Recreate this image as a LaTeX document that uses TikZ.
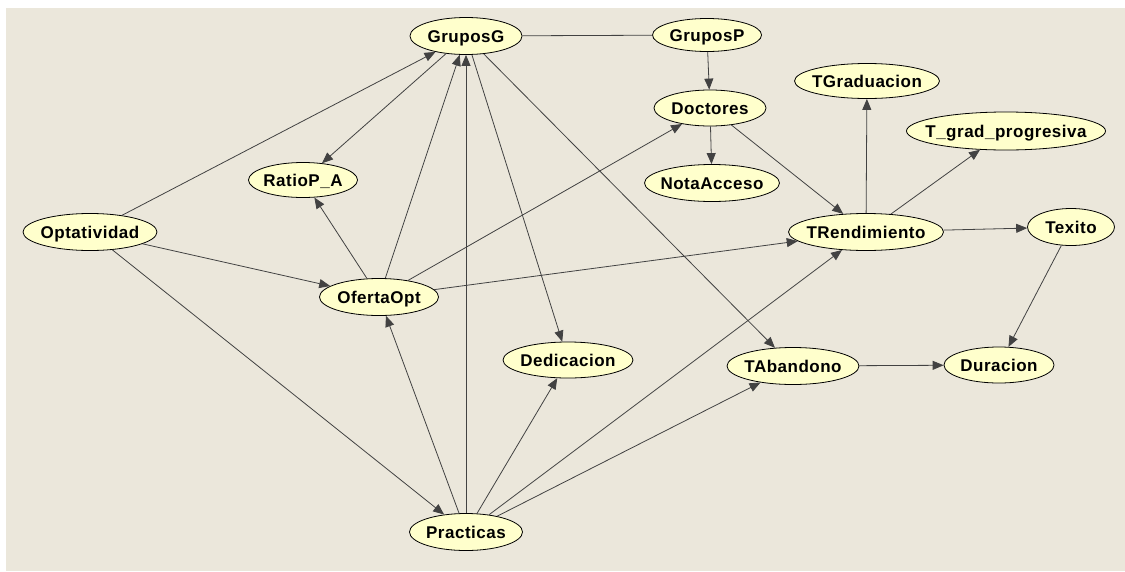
\documentclass[tikz,border=0pt]{standalone}
\usepackage{fontspec}
\newfontfamily\nodefont{Liberation Sans}[LetterSpace=3.0]
\usetikzlibrary{shapes,arrows.meta,positioning}
\usepackage{xcolor}
\definecolor{paper}{RGB}{235,231,219}
\definecolor{lightyellow}{RGB}{255,255,204}
\definecolor{edgegray}{RGB}{66,66,66}

\begin{document}
\begin{tikzpicture}[
    x=1pt, y=-1pt,
    >={Triangle[length=11pt,width=9pt]},
    var/.style={ellipse, draw=black, line width=0.8pt, fill=lightyellow, inner xsep=-14pt, inner ysep=0pt,
        minimum height=36pt, text height=12.5pt, text depth=0pt, font=\nodefont\bfseries\fontsize{17}{20}\selectfont},
    link/.style={draw=edgegray, line width=0.8pt}
]
    \useasboundingbox (0,0) rectangle (1125,571);
    \fill[white] (0,0) rectangle (1125,571);
    \fill[paper] (6,8) rectangle (1125,571);

    % Variables
    \node[var, minimum width=112pt, minimum height=37pt] (gg) at (466,36) {GruposG};
    \node[var, minimum width=109pt, minimum height=33pt] (gp) at (707,35) {GruposP};
    \node[var, minimum width=112pt] (doc) at (710,108) {Doctores};
    \node[var, minimum width=135pt, minimum height=37pt] (nota) at (712,183) {NotaAcceso};
    \node[var, minimum width=145pt, minimum height=35pt] (tgrad) at (867,81) {TGraduacion};
    \node[var, minimum width=199pt, minimum height=38pt] (tprog) at (1006,131) {T\_grad\_progresiva};
    \node[var, minimum width=155pt, minimum height=37pt] (trend) at (866,232) {TRendimiento};
    \node[var, minimum width=87pt, minimum height=37pt] (texito) at (1071,227) {Texito};
    \node[var, minimum width=109pt, minimum height=35pt] (ratio) at (303,180) {RatioP\_A};
    \node[var, minimum width=134pt, minimum height=37pt] (opt) at (90,232) {Optatividad};
    \node[var, minimum width=119pt, minimum height=37pt] (oferta) at (379,297) {OfertaOpt};
    \node[var, minimum width=113pt, minimum height=37pt] (prac) at (466,532) {Practicas};
    \node[var, minimum width=130pt] (ded) at (568,360) {Dedicacion};
    \node[var, minimum width=132pt, minimum height=37pt] (taband) at (793,366) {TAbandono};
    \node[var, minimum width=110pt] (dur) at (999,365) {Duracion};

    % Links
    \draw[link] (gg) -- (gp);
    \draw[link,->] (opt) -- (gg);
    \draw[link,->] (opt) -- (oferta);
    \draw[link,->] (opt) -- (prac);
    \draw[link,->] (gg) -- (ratio);
    \draw[link,->] (gg) -- (ded);
    \draw[link,->] (gg) -- (taband);
    \draw[link,->] (oferta) -- (ratio);
    \draw[link,->] (oferta) -- (gg);
    \draw[link,->] (oferta) -- (doc);
    \draw[link,->] (oferta) -- (trend);
    \draw[link,->] (prac) -- (gg);
    \draw[link,->] (prac) -- (oferta);
    \draw[link,->] (prac) -- (ded);
    \draw[link,->] (prac) -- (trend);
    \draw[link,->] (prac) -- (taband);
    \draw[link,->] (gp) -- (doc);
    \draw[link,->] (doc) -- (nota);
    \draw[link,->] (doc) -- (trend);
    \draw[link,->] (trend) -- (tgrad);
    \draw[link,->] (trend) -- (tprog);
    \draw[link,->] (trend) -- (texito);
    \draw[link,->] (texito) -- (dur);
    \draw[link,->] (taband) -- (dur);
\end{tikzpicture}
\end{document}
